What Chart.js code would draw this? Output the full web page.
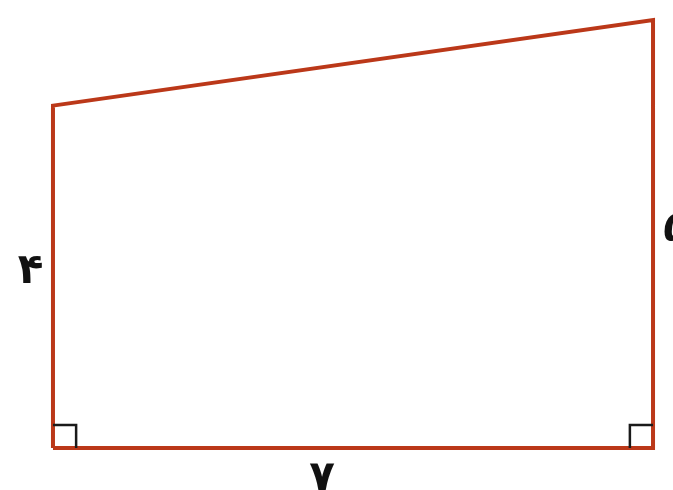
<!DOCTYPE html>
<html>
<head>
<meta charset="utf-8">
<script src="https://cdn.jsdelivr.net/npm/chart.js@4"></script>
<style>
html,body{margin:0;padding:0;background:#fff;}
#wrap{width:673px;height:490px;position:relative;}
</style>
</head>
<body>
<div id="wrap"><canvas id="c"></canvas></div>
<script>
// Trapezoid side lengths (as labelled)
const bottomSide = 7;
const leftSide = 4;
const rightSide = 5;
// Vertices of the trapezoid outline
const outlineX = [0, 0, bottomSide, bottomSide, 0];
const outlineY = [0, leftSide, rightSide, 0, 0];
// Right-angle marker size
const markSize = 0.27;
// Side labels (Persian digits)
const sideLabels = ['۴', '۵', '۷'];
const labelX = [-0.26, 7.27, 3.14];
const labelY = [2.06, 2.55, -0.36];

const outline = outlineX.map((x, i) => ({x: x, y: outlineY[i]}));
const markLeft = [{x: 0, y: markSize}, {x: markSize, y: markSize}, {x: markSize, y: 0}];
const markRight = [{x: bottomSide - markSize, y: 0}, {x: bottomSide - markSize, y: markSize}, {x: bottomSide, y: markSize}];

const labelPlugin = {
  id: 'sideLabels',
  afterDatasetsDraw(chart) {
    const ctx = chart.ctx;
    const xs = chart.scales.x, ys = chart.scales.y;
    ctx.save();
    ctx.fillStyle = '#111';
    ctx.font = 'bold 42px "DejaVu Sans"';
    ctx.textAlign = 'center';
    ctx.textBaseline = 'middle';
    sideLabels.forEach((t, i) => {
      ctx.fillText(t, xs.getPixelForValue(labelX[i]), ys.getPixelForValue(labelY[i]));
    });
    ctx.restore();
  }
};

new Chart(document.getElementById('c'), {
  type: 'scatter',
  data: {
    datasets: [
      {data: markLeft, showLine: true, borderColor: '#1a1a1a', borderWidth: 2.5, pointRadius: 0, fill: false},
      {data: markRight, showLine: true, borderColor: '#1a1a1a', borderWidth: 2.5, pointRadius: 0, fill: false},
      {data: outline, showLine: true, borderColor: '#bb3819', borderWidth: 4, pointRadius: 0, fill: false, borderJoinStyle: 'miter', tension: 0}
    ]
  },
  options: {
    responsive: true,
    maintainAspectRatio: false,
    animation: false,
    layout: {padding: 0},
    plugins: {legend: {display: false}, tooltip: {enabled: false}},
    scales: {
      x: {type: 'linear', min: -0.618, max: 7.233, display: false},
      y: {type: 'linear', min: -0.49, max: 5.234, display: false}
    }
  },
  plugins: [labelPlugin]
});
</script>
</body>
</html>
